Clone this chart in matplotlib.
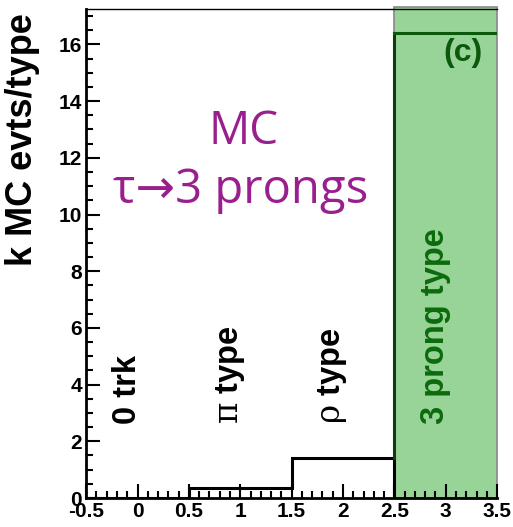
import numpy as np
from matplotlib import pyplot as plt
from matplotlib.ticker import MultipleLocator

# reconstructed decay type bins and MC counts (thousands of events)
bin_centers = [0, 1, 2, 3]
counts = [0.0, 0.35, 1.41, 16.4]
type_labels = ["0 trk", r"$\mathrm{\pi}$ type", r"$\mathrm{\rho}$ type", "3 prong type"]
selected_bin = 3

plt.rcParams['font.family'] = ['Liberation Sans', 'DejaVu Sans']
plt.rcParams['font.weight'] = 'bold'
plt.rcParams['mathtext.fontset'] = 'custom'
plt.rcParams['mathtext.rm'] = 'DejaVu Serif:weight=normal'

fig = plt.figure(figsize=(5.13, 5.27), dpi=100)
ax = fig.add_axes([0.168, 0.055, 0.801, 0.928])

edges = np.array(bin_centers + [bin_centers[-1] + 1]) - 0.5

# highlighted bin band
ax.axvspan(edges[selected_bin], edges[selected_bin + 1], ymin=0, ymax=1.005,
           facecolor="#98d498", edgecolor="#888888", lw=1.2, zorder=0, clip_on=False)

ax.stairs(counts[:selected_bin], edges[:selected_bin + 1], color="black", lw=2.2, zorder=3)
ax.plot([edges[selected_bin]] * 2, [counts[selected_bin - 1], counts[selected_bin]],
        color="#0d3d0d", lw=2.2, zorder=3)
ax.plot(edges[selected_bin:selected_bin + 2], [counts[selected_bin]] * 2,
        color="#0b5a0b", lw=2.2, zorder=3)

# bin names, written upward from a common baseline
for i, (x, lab) in enumerate(zip(bin_centers, type_labels)):
    c = "#0b6b0b" if i == selected_bin else "black"
    ax.text(x - 0.1, 2.6, lab, rotation=90, rotation_mode="anchor",
            ha="left", va="center", fontsize=23.5, fontweight="bold", color=c)

ax.text(3.17, 15.7, "(c)", ha="center", va="center", fontsize=23,
        fontweight="bold", color="#0b5a0b")

ax.text(1.03, 12.9, "MC", ha="center", va="center", fontsize=33,
        fontweight="normal", color="#9a1f8e", family=["Open Sans", "DejaVu Sans"])
ax.text(1.0, 10.85, "\u03c4\u21923 prongs", ha="center", va="center", fontsize=34,
        fontweight="normal", color="#9a1f8e", family=["Open Sans", "DejaVu Sans"])

ax.set_xlim(-0.5, 3.5)
ax.set_ylim(0, 17.25)
ax.xaxis.set_major_locator(MultipleLocator(0.5))
ax.xaxis.set_minor_locator(MultipleLocator(0.1))
ax.yaxis.set_major_locator(MultipleLocator(2))
ax.yaxis.set_minor_locator(MultipleLocator(0.5))
ax.tick_params(which="both", direction="in", top=False, right=False, width=1.5)
ax.tick_params(which="major", length=10, labelsize=15, pad=3)
ax.tick_params(which="minor", length=5)
ax.set_xticks([-0.5, 0, 0.5, 1, 1.5, 2, 2.5, 3, 3.5])
ax.set_xticklabels(["-0.5", "0", "0.5", "1", "1.5", "2", "2.5", "3", "3.5"])
for lab in ax.get_xticklabels() + ax.get_yticklabels():
    lab.set_fontweight("bold")

ax.spines["left"].set_linewidth(2)
ax.spines["bottom"].set_linewidth(2)
ax.spines["top"].set_linewidth(1)
ax.spines["right"].set_visible(False)

ax.set_ylabel("k MC evts/type", fontsize=26, fontweight="bold")
ax.yaxis.set_label_coords(-0.112, 0.732)

plt.savefig("out.png", dpi=100)
